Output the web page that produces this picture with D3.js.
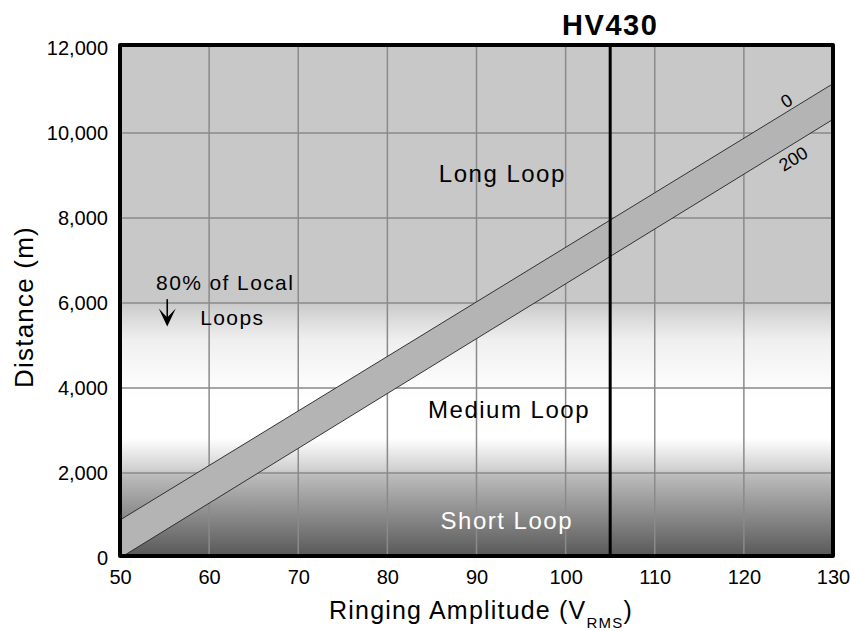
<!DOCTYPE html>
<html><head><meta charset="utf-8">
<script src="https://cdn.jsdelivr.net/npm/d3@7/dist/d3.min.js"></script>
<style>
body{margin:0;background:#fff}
text{font-family:"Liberation Sans",Arial,Helvetica,sans-serif;fill:#000}
</style>
</head><body>
<svg id="chart" width="850" height="631"></svg>
<script>
// ---------- data ----------
const xTicks = [50, 60, 70, 80, 90, 100, 110, 120, 130];
const yTicks = [0, 2000, 4000, 6000, 8000, 10000, 12000];
const bandX = [50, 130];            // ringing amplitude (V RMS)
const line0 = [893, 11160];         // distance (m) for curve "0"
const line200 = [0, 10321];         // distance (m) for curve "200"
const bandLabels = ["0", "200"];
const hvAmplitude = 105;
const titleText = "HV430";
const regionNames = ["Long Loop", "Medium Loop", "Short Loop"];
const regionX = [92.9, 93.65, 93.4];
const regionY = [8840, 3290, 682];
const noteLines = ["80% of Local", "Loops"];
const noteX = [61.8, 62.6];
const noteY = [6300, 5480];
const arrowX = 55.3;
const arrowY = [6090, 5450];
// background shading: [distance (m), grey]
const shadeStops = [
  [12000, "#c8c8c8"], [6000, "#c8c8c8"], [5950, "#cccccc"], [5600, "#dcdcdc"],
  [5130, "#efefef"], [4190, "#fbfbfb"], [3720, "#ffffff"], [2820, "#ffffff"],
  [2070, "#cfcfcf"], [2000, "#c4c4c4"], [1950, "#bcbcbc"], [0, "#565656"]
];

// ---------- layout ----------
const W = 850, H = 631;
const frame = {left: 120, right: 833, top: 45, bottom: 556};
const svg = d3.select("#chart");
const x = d3.scaleLinear().domain([50, 130]).range([frame.left, frame.right]);
const y = d3.scaleLinear().domain([0, 12000]).range([558, 48]);

const defs = svg.append("defs");
const grad = defs.append("linearGradient").attr("id", "bg")
  .attr("gradientUnits", "userSpaceOnUse")
  .attr("x1", 0).attr("x2", 0).attr("y1", 0).attr("y2", H);
grad.selectAll("stop").data(shadeStops).join("stop")
  .attr("offset", d => Math.max(0, Math.min(1, y(d[0]) / H)))
  .attr("stop-color", d => d[1]);
defs.append("clipPath").attr("id", "plotClip").append("rect")
  .attr("x", frame.left).attr("y", frame.top)
  .attr("width", frame.right - frame.left).attr("height", frame.bottom - frame.top);

// background
svg.append("rect").attr("x", frame.left).attr("y", frame.top)
  .attr("width", frame.right - frame.left).attr("height", frame.bottom - frame.top)
  .attr("fill", "url(#bg)");

// grid
const grid = svg.append("g").attr("stroke", "#8a8a8a").attr("stroke-width", 1.5);
grid.selectAll("line.v").data(xTicks.slice(1, -1)).join("line").attr("class", "v")
  .attr("x1", d => x(d)).attr("x2", d => x(d))
  .attr("y1", frame.top).attr("y2", frame.bottom);
grid.selectAll("line.h").data(yTicks.slice(1, -1)).join("line").attr("class", "h")
  .attr("y1", d => y(d)).attr("y2", d => y(d))
  .attr("x1", frame.left).attr("x2", frame.right);

// band
const plot = svg.append("g").attr("clip-path", "url(#plotClip)");
const bandPts = [
  [bandX[0], line0[0]], [bandX[1], line0[1]],
  [bandX[1], line200[1]], [bandX[0], line200[0]]
];
plot.append("path")
  .attr("d", d3.line().x(d => x(d[0])).y(d => y(d[1]))(bandPts) + "Z")
  .attr("fill", "#b4b4b4");
const lineGen = d3.line().x(d => x(d[0])).y(d => y(d[1]));
[line0, line200].forEach(l => {
  plot.append("path").attr("d", lineGen(bandX.map((v, i) => [v, l[i]])))
    .attr("fill", "none").attr("stroke", "#222").attr("stroke-width", 0.9);
});

// HV line
svg.append("line").attr("x1", x(hvAmplitude)).attr("x2", x(hvAmplitude))
  .attr("y1", frame.top).attr("y2", frame.bottom)
  .attr("stroke", "#000").attr("stroke-width", 3);

// frame
svg.append("rect").attr("x", frame.left).attr("y", frame.top)
  .attr("width", frame.right - frame.left).attr("height", frame.bottom - frame.top)
  .attr("fill", "none").attr("stroke", "#000").attr("stroke-width", 4)
  .attr("stroke-linejoin", "round");

// axes
const yAxis = svg.append("g").attr("transform", `translate(${frame.left},0)`)
  .call(d3.axisLeft(y).tickValues(yTicks).tickFormat(d3.format(",")).tickSize(0).tickPadding(12));
const xAxis = svg.append("g").attr("transform", `translate(0,${frame.bottom})`)
  .call(d3.axisBottom(x).tickValues(xTicks).tickFormat(d3.format("d")).tickSize(0).tickPadding(14));
[yAxis, xAxis].forEach(g => {
  g.select(".domain").remove();
  g.attr("font-family", null).attr("font-size", null);
  g.selectAll("text").attr("font-size", 20).attr("fill", "#000")
    .attr("font-family", "'Liberation Sans',Arial,sans-serif");
});

// title
svg.append("text").attr("x", x(hvAmplitude)).attr("y", 35)
  .attr("text-anchor", "middle").attr("font-size", 29).attr("font-weight", "bold")
  .style("letter-spacing", "1.5px").text(titleText);

// axis titles
svg.append("text").attr("transform", "translate(33,307) rotate(-90)")
  .attr("text-anchor", "middle").attr("font-size", 26).style("letter-spacing", "1.2px")
  .text("Distance (m)");
const xt = svg.append("text").attr("x", 481).attr("y", 619)
  .attr("text-anchor", "middle").attr("font-size", 25).style("letter-spacing", "1.2px");
xt.append("tspan").text("Ringing Amplitude (V");
xt.append("tspan").attr("font-size", 15).attr("dy", 9).text("RMS");
xt.append("tspan").attr("dy", -9).text(")");

// region labels
svg.selectAll("text.region").data(regionNames).join("text").attr("class", "region")
  .attr("x", (d, i) => x(regionX[i])).attr("y", (d, i) => y(regionY[i]))
  .attr("text-anchor", "middle").attr("font-size", 24)
  .style("letter-spacing", "1.5px")
  .style("fill", (d, i) => i === 2 ? "#fff" : "#000")
  .text(d => d);

// note
svg.selectAll("text.note").data(noteLines).join("text").attr("class", "note")
  .attr("x", (d, i) => x(noteX[i])).attr("y", (d, i) => y(noteY[i]))
  .attr("text-anchor", "middle").attr("font-size", 21)
  .style("letter-spacing", "1.4px").text(d => d);
const ax = x(arrowX), ay0 = y(arrowY[0]), ay1 = y(arrowY[1]);
svg.append("line").attr("x1", ax).attr("x2", ax).attr("y1", ay0).attr("y2", ay1 - 6)
  .attr("stroke", "#000").attr("stroke-width", 1.6);
svg.append("path")
  .attr("d", `M${ax},${ay1} L${ax - 8.5},${ay1 - 18} L${ax},${ay1 - 9} L${ax + 8.5},${ay1 - 18} Z`)
  .attr("fill", "#000");

// band labels
const angleDeg = Math.atan2(y(line0[0]) - y(line0[1]), x(bandX[1]) - x(bandX[0])) * 180 / Math.PI;
const interp = (l, v) => l[0] + (v - bandX[0]) / (bandX[1] - bandX[0]) * (l[1] - l[0]);
[[line0, 125.36, -3.5], [line200, 124.8, 19]].forEach((cfg, i) => {
  const [l, vx, off] = cfg;
  svg.append("text")
    .attr("transform", `translate(${x(vx)},${y(interp(l, vx))}) rotate(${-angleDeg})`)
    .attr("y", off).attr("text-anchor", "middle").attr("font-size", 18)
    .text(bandLabels[i]);
});
</script>
</body></html>
